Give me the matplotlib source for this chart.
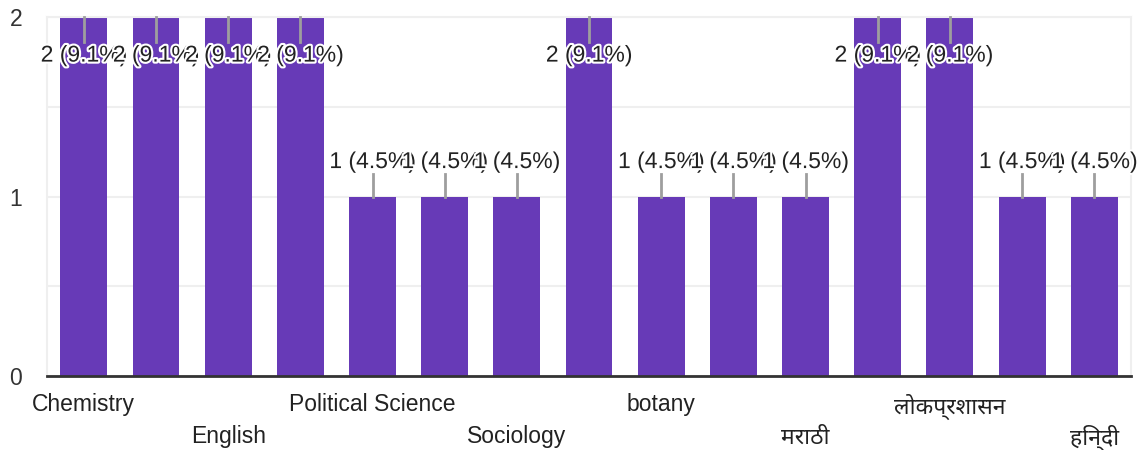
import matplotlib.pyplot as plt
import matplotlib.patheffects as pe

plt.rcParams['font.family'] = ['Liberation Sans', 'Noto Sans Devanagari', 'Lohit Devanagari', 'FreeSans', 'DejaVu Sans']

subjects = ['Chemistry', '', 'English', '', 'Political Science', '', 'Sociology', '',
            'botany', '', 'मराठी', '', 'लोकप्रशासन', '', 'हिन्दी']
counts = [2, 2, 2, 2, 1, 1, 1, 2, 1, 1, 1, 2, 2, 1, 1]
total = 22

purple = '#673ab7'
grey_line = '#9e9e9e'

fig = plt.figure(figsize=(11.39, 4.5), dpi=100)
ax = fig.add_axes([0.0413, 0.1644, 0.9517, 0.7976])

x = list(range(len(counts)))
ax.bar(x, counts, width=0.65, color=purple, zorder=2)

ax.set_xlim(-0.51, len(counts) - 0.49)
ax.set_ylim(0, 2)
ax.set_yticks([0, 1, 2])
ax.set_yticks([0.5, 1.5], minor=True)
ax.grid(axis='y', which='both', color='#efefef', lw=1.5, zorder=0)
ax.tick_params(axis='y', which='both', length=0, pad=18, labelsize=16.5, labelcolor='#333333')

for s in ['left', 'right', 'top']:
    ax.spines[s].set_color('#efefef')
    ax.spines[s].set_linewidth(1.5)
ax.spines['bottom'].set_color('#333333')
ax.spines['bottom'].set_linewidth(2)

ax.set_xticks(x)
ax.set_xticklabels(subjects, fontsize=16.5, color='#222222')
ax.tick_params(axis='x', length=0)
for i, t in enumerate(ax.xaxis.get_major_ticks()):
    t.set_pad(12.5 if (i // 2) % 2 == 0 else 35.5)

px = 2 / 359.0  # data units per pixel
halo = [pe.withStroke(linewidth=3, foreground='white')]
for xi, c in zip(x, counts):
    label = '%d (%.1f%%)' % (c, 100.0 * c / total)
    if c == 2:
        ax.plot([xi, xi], [c, c - 25 * px], color=grey_line, lw=2, zorder=3, clip_on=False)
        ty = c - 38 * px
    else:
        ax.plot([xi, xi], [c, c + 23 * px], color=grey_line, lw=2, zorder=3)
        ty = c + 35 * px
    ax.text(xi, ty, label, ha='center', va='center', fontsize=16.5, color='#222222',
            path_effects=halo, zorder=4)

fig.savefig('out.png', dpi=100)
